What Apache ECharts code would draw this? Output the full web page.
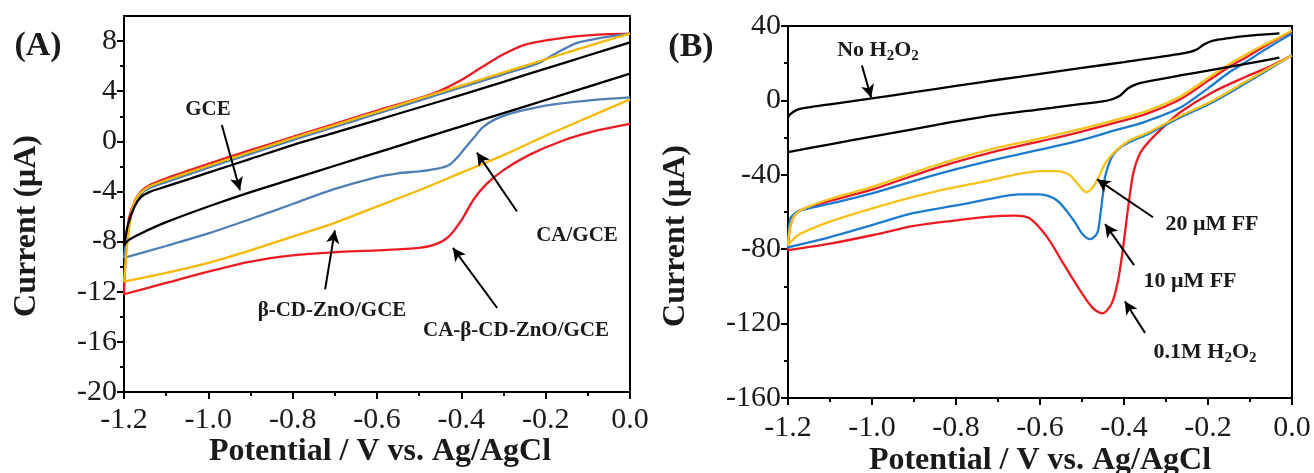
<!DOCTYPE html>
<html><head><meta charset="utf-8">
<script src="https://cdn.jsdelivr.net/npm/echarts@6/dist/echarts.min.js"></script>
<style>html,body{margin:0;padding:0;background:#fff}#c{width:1314px;height:473px}</style>
</head><body><div id="c"></div>
<script>
// ---------- Panel A data: [potential (V), current (uA)] ----------
const A_GCE_lower = [[-1.2,-8.3],[-1.19,-7.9],[-1.16,-7.35],[-1.1,-6.45],[-1.0,-5.2],[-0.9,-4.05],[-0.8,-3.0],[-0.7,-1.95],[-0.6,-0.9],[-0.5,0.15],[-0.4,1.2],[-0.3,2.25],[-0.2,3.3],[-0.1,4.35],[0,5.4]];
const A_GCE_upper = [[0,7.9],[-0.1,6.85],[-0.2,5.8],[-0.3,4.75],[-0.4,3.7],[-0.5,2.7],[-0.6,1.7],[-0.7,0.7],[-0.8,-0.3],[-0.9,-1.4],[-1.0,-2.5],[-1.1,-3.6],[-1.14,-4.05],[-1.16,-4.45],[-1.175,-5.2],[-1.19,-6.6],[-1.2,-8.3]];
const A_CA_lower = [[-1.2,-9.3],[-1.1,-8.35],[-1.0,-7.35],[-0.9,-6.2],[-0.8,-5.0],[-0.7,-3.8],[-0.6,-2.85],[-0.55,-2.55],[-0.5,-2.4],[-0.46,-2.2],[-0.43,-1.9],[-0.41,-1.3],[-0.39,-0.5],[-0.37,0.3],[-0.35,1.1],[-0.32,1.75],[-0.28,2.25],[-0.2,2.85],[-0.1,3.25],[0,3.5]];
const A_CA_upper = [[0,8.6],[-0.05,8.35],[-0.1,8.05],[-0.13,7.8],[-0.16,7.3],[-0.19,6.75],[-0.22,6.2],[-0.3,5.35],[-0.4,4.3],[-0.5,3.25],[-0.6,2.2],[-0.7,1.15],[-0.8,0.1],[-0.9,-1.0],[-1.0,-2.1],[-1.1,-3.25],[-1.14,-3.75],[-1.16,-4.2],[-1.175,-5.0],[-1.19,-7.0],[-1.2,-9.3]];
const A_CDZ_lower = [[-1.2,-11.2],[-1.1,-10.5],[-1.0,-9.7],[-0.9,-8.7],[-0.8,-7.6],[-0.7,-6.5],[-0.6,-5.2],[-0.5,-3.9],[-0.4,-2.5],[-0.3,-1.1],[-0.2,0.45],[-0.1,1.9],[0,3.35]];
const A_CDZ_upper = [[0,8.6],[-0.1,7.6],[-0.2,6.55],[-0.3,5.5],[-0.4,4.45],[-0.5,3.4],[-0.6,2.35],[-0.7,1.3],[-0.8,0.25],[-0.9,-0.85],[-1.0,-1.95],[-1.1,-3.1],[-1.14,-3.6],[-1.16,-4.1],[-1.17,-4.5],[-1.18,-5.3],[-1.19,-7.5],[-1.2,-11.2]];
const A_CACDZ_lower = [[-1.2,-12.2],[-1.1,-11.3],[-1.0,-10.4],[-0.9,-9.6],[-0.8,-9.1],[-0.7,-8.85],[-0.6,-8.7],[-0.5,-8.5],[-0.46,-8.2],[-0.43,-7.6],[-0.4,-6.3],[-0.37,-4.6],[-0.34,-3.4],[-0.3,-2.3],[-0.24,-1.1],[-0.16,0.05],[-0.08,0.85],[0,1.4]];
const A_CACDZ_upper = [[0,8.6],[-0.05,8.55],[-0.1,8.45],[-0.15,8.3],[-0.2,8.05],[-0.25,7.7],[-0.3,6.95],[-0.35,5.95],[-0.4,4.9],[-0.45,4.05],[-0.5,3.45],[-0.6,2.45],[-0.7,1.4],[-0.8,0.35],[-0.9,-0.7],[-1.0,-1.8],[-1.1,-2.95],[-1.14,-3.5],[-1.16,-4.0],[-1.175,-4.8],[-1.19,-6.5],[-1.2,-12.2]];

// ---------- Panel B data ----------
const B_NoH2O2_lower = [[-1.2,-27.8],[-1.1,-23.6],[-1.0,-19.5],[-0.9,-15.4],[-0.8,-11.3],[-0.7,-7.7],[-0.6,-4.8],[-0.5,-1.9],[-0.45,-0.5],[-0.43,0.5],[-0.41,2.5],[-0.39,6.5],[-0.37,8.8],[-0.33,10.8],[-0.267,13.4],[-0.2,16],[-0.1,20],[-0.03,23]];
const B_NoH2O2_upper = [[-0.03,36],[-0.1,34.8],[-0.15,33.5],[-0.19,32],[-0.21,30],[-0.23,27],[-0.26,25.3],[-0.4,20.6],[-0.5,17.5],[-0.6,14.3],[-0.7,11.1],[-0.8,7.8],[-0.9,4.4],[-1.0,1.1],[-1.1,-2.1],[-1.15,-3.7],[-1.18,-5.2],[-1.195,-7.5],[-1.2,-9.1]];
const B_H2O2_lower = [[-1.2,-80.5],[-1.1,-77],[-1.0,-72.5],[-0.9,-67.5],[-0.8,-64.5],[-0.72,-62.5],[-0.66,-62],[-0.624,-63.5],[-0.583,-73.5],[-0.545,-87.5],[-0.505,-102],[-0.474,-111.7],[-0.452,-114.5],[-0.429,-109],[-0.414,-96.6],[-0.402,-78.9],[-0.39,-57.4],[-0.378,-39.3],[-0.362,-28.5],[-0.338,-21.5],[-0.3,-13],[-0.267,-6.5],[-0.188,4.5],[-0.107,13],[-0.05,18.5],[0,24.2]];
const B_H2O2_upper = [[0,37],[-0.03,33.5],[-0.07,28.5],[-0.107,23.5],[-0.15,18],[-0.2,10.5],[-0.267,0.5],[-0.35,-7.5],[-0.42,-12],[-0.505,-17],[-0.6,-22],[-0.72,-28.2],[-0.85,-36.5],[-1.0,-48],[-1.1,-54],[-1.15,-57.5],[-1.17,-59],[-1.185,-62],[-1.195,-68],[-1.2,-80.5]];
const B_FF10_lower = [[-1.2,-79],[-1.1,-73.5],[-1.0,-67],[-0.9,-60.5],[-0.8,-56.5],[-0.72,-53],[-0.65,-50.5],[-0.6,-50.5],[-0.56,-53.7],[-0.52,-64.4],[-0.5,-71.5],[-0.481,-74.6],[-0.464,-71.4],[-0.457,-62.7],[-0.45,-50],[-0.445,-41],[-0.429,-30.4],[-0.41,-25.5],[-0.39,-22.8],[-0.345,-18.3],[-0.267,-9.3],[-0.188,-0.8],[-0.107,9.7],[-0.05,17.4],[0,24.2]];
const B_FF10_upper = [[0,36],[-0.03,32],[-0.07,26.5],[-0.107,21],[-0.15,15],[-0.2,6.5],[-0.267,-4],[-0.35,-11.5],[-0.42,-16],[-0.505,-21.5],[-0.6,-26.5],[-0.72,-32.5],[-0.85,-40],[-1.0,-50],[-1.1,-55.5],[-1.15,-58],[-1.17,-59],[-1.185,-61],[-1.195,-64],[-1.2,-79]];
const B_FF20_lower = [[-1.2,-78],[-1.185,-74],[-1.17,-71.6],[-1.09,-64.4],[-0.95,-54.8],[-0.85,-49],[-0.72,-43],[-0.65,-39.5],[-0.6,-38],[-0.56,-38],[-0.53,-40],[-0.51,-45],[-0.49,-49.3],[-0.475,-47],[-0.46,-41],[-0.445,-34],[-0.426,-28.5],[-0.39,-22],[-0.345,-17.5],[-0.267,-8.5],[-0.188,0],[-0.107,10.5],[-0.05,18],[0,24.2]];
const B_FF20_upper = [[0,37.6],[-0.03,34],[-0.07,29.5],[-0.107,25],[-0.15,19.5],[-0.2,12],[-0.267,2],[-0.35,-6],[-0.42,-10.5],[-0.505,-15.5],[-0.6,-20.5],[-0.72,-26.5],[-0.85,-35],[-1.0,-46.5],[-1.1,-53],[-1.15,-57],[-1.17,-59],[-1.185,-62],[-1.195,-68],[-1.2,-78]];

// ---------- tick values ----------
const A_X_TICKS = [-1.2,-1.0,-0.8,-0.6,-0.4,-0.2,0.0];
const A_X_MINOR = [-1.1,-0.9,-0.7,-0.5,-0.3,-0.1];
const A_Y_TICKS = [-20,-16,-12,-8,-4,0,4,8];
const A_Y_MINOR = [-18,-14,-10,-6,-2,2,6];
const B_X_TICKS = [-1.2,-1.0,-0.8,-0.6,-0.4,-0.2,0.0];
const B_X_MINOR = [-1.1,-0.9,-0.7,-0.5,-0.3,-0.1];
const B_Y_TICKS = [-160,-120,-80,-40,0,40];
const B_Y_MINOR = [-140,-100,-60,-20,20];

const SERIF = "'Liberation Serif','Times New Roman',serif";
const C = {
  black:'#000000', aBlue:'#4f7fb3', aYellow:'#f6b800', aRed:'#ec1b23',
  bBlue:'#1c7bd0', bYellow:'#f7c21a', bRed:'#ec1b23'
};

const chart = echarts.init(document.getElementById('c'), null, {renderer:'canvas'});

function mainX(grid, ticks, min, max, margin){
  return {gridIndex:grid, type:'value', min:min, max:max,
    axisLine:{show:true, onZero:false, lineStyle:{color:'#000', width:2}},
    axisTick:{show:true, inside:false, length:7, lineStyle:{color:'#000', width:2}, customValues:ticks},
    axisLabel:{show:true, customValues:ticks, formatter:v=>Number(v).toFixed(1), fontFamily:SERIF, fontSize:30, color:'#1a1a1a', margin:margin},
    splitLine:{show:false}};
}
function minorX(grid, ticks, min, max){
  return {gridIndex:grid, type:'value', min:min, max:max, position:'bottom',
    axisLine:{show:false, onZero:false},
    axisTick:{show:true, inside:false, length:4, lineStyle:{color:'#000', width:2}, customValues:ticks},
    axisLabel:{show:false}, splitLine:{show:false}};
}
function mainY(grid, ticks, min, max){
  return {gridIndex:grid, type:'value', min:min, max:max,
    axisLine:{show:true, onZero:false, lineStyle:{color:'#000', width:2}},
    axisTick:{show:true, inside:false, length:7, lineStyle:{color:'#000', width:2}, customValues:ticks},
    axisLabel:{show:true, customValues:ticks, formatter:v=>String(Math.round(v)), fontFamily:SERIF, fontSize:30, color:'#1a1a1a', margin:7},
    splitLine:{show:false}};
}
function minorY(grid, ticks, min, max){
  return {gridIndex:grid, type:'value', min:min, max:max, position:'left',
    axisLine:{show:false, onZero:false},
    axisTick:{show:true, inside:false, length:4, lineStyle:{color:'#000', width:2}, customValues:ticks},
    axisLabel:{show:false}, splitLine:{show:false}};
}

function line(name, data, color, xi, yi, z){
  return {name:name, type:'line', xAxisIndex:xi, yAxisIndex:yi, data:data, showSymbol:false, symbol:'none',
    smooth:0.3, lineStyle:{color:color, width:2.3}, z:z||2, animation:false, silent:true};
}
// cyclic voltammogram: upper branch (0 -> -1.2) followed by lower branch (-1.2 -> 0)
function loop(lower, upper){ return upper.concat(lower.slice(1)); }

function arrows(list){
  return {silent:true, animation:false, symbol:['none','arrow'], symbolSize:[10,13],
    lineStyle:{color:'#000', width:2, type:'solid'}, label:{show:false},
    data:list.map(a=>[{coord:a[0]},{coord:a[1]}])};
}

const A_ARROWS = [
  [[-0.968,1.3],[-0.925,-3.9]],
  [[-0.268,-5.6],[-0.363,-0.9]],
  [[-0.723,-11.8],[-0.700,-7.1]],
  [[-0.315,-13.3],[-0.420,-8.5]]
];
const B_ARROWS = [
  [[-1.024,18.8],[-1.002,1.5]],
  [[-0.331,-62.8],[-0.464,-42.5]],
  [[-0.376,-88.6],[-0.445,-66.5]],
  [[-0.350,-125],[-0.398,-108]]
];

const sA = line('GCE', loop(A_GCE_lower, A_GCE_upper), C.black, 0, 0, 3);
sA.markLine = arrows(A_ARROWS);
const sB = line('No H2O2 lower', B_NoH2O2_lower, C.black, 2, 2, 3);
sB.markLine = arrows(B_ARROWS);

const labelStyle = (size)=>({fontFamily:SERIF, fontWeight:'bold', fontSize:size, fill:'#1a1a1a', align:'center', verticalAlign:'middle'});
function txt(x, y, text, size, rot){
  return {type:'text', x:x, y:y, rotation:rot||0, z:100, silent:true,
    style:Object.assign({text:text}, labelStyle(size))};
}
function subTxt(x, y, text, size){
  return {type:'text', x:x, y:y, z:100, silent:true,
    style:{text:text, align:'center', verticalAlign:'middle', fill:'#1a1a1a',
      rich:{a:{fontFamily:SERIF, fontWeight:'bold', fontSize:size, lineHeight:size+5, fill:'#1a1a1a'},
            s:{fontFamily:SERIF, fontWeight:'bold', fontSize:Math.round(size*0.66), lineHeight:Math.round(size*0.66), verticalAlign:'bottom', fill:'#1a1a1a'}}}};
}

chart.setOption({
  animation:false,
  backgroundColor:'#ffffff',
  grid:[
    {left:124, top:16, width:506, height:376, show:true, borderColor:'#000', borderWidth:2, backgroundColor:'transparent'},
    {left:788, top:26, width:504, height:372, show:true, borderColor:'#000', borderWidth:2, backgroundColor:'transparent'}
  ],
  xAxis:[
    mainX(0, A_X_TICKS, -1.2, 0, 13), minorX(0, A_X_MINOR, -1.2, 0),
    mainX(1, B_X_TICKS, -1.2, 0, 15), minorX(1, B_X_MINOR, -1.2, 0)
  ],
  yAxis:[
    mainY(0, A_Y_TICKS, -20, 10), minorY(0, A_Y_MINOR, -20, 10),
    mainY(1, B_Y_TICKS, -160, 40), minorY(1, B_Y_MINOR, -160, 40)
  ],
  series:[
    line('CA-β-CD-ZnO/GCE', loop(A_CACDZ_lower, A_CACDZ_upper), C.aRed, 0, 0, 2),
    line('CA/GCE', loop(A_CA_lower, A_CA_upper), C.aBlue, 0, 0, 2),
    line('β-CD-ZnO/GCE', loop(A_CDZ_lower, A_CDZ_upper), C.aYellow, 0, 0, 2),
    sA,
    sB,
    line('No H2O2 upper', B_NoH2O2_upper, C.black, 2, 2, 3),
    line('0.1M H2O2', loop(B_H2O2_lower, B_H2O2_upper), C.bRed, 2, 2, 2),
    line('10 uM FF', loop(B_FF10_lower, B_FF10_upper), C.bBlue, 2, 2, 2),
    line('20 uM FF', loop(B_FF20_lower, B_FF20_upper), C.bYellow, 2, 2, 2)
  ],
  graphic:[
    txt(38, 46, '(A)', 34),
    txt(691, 47, '(B)', 34),
    txt(27, 226, 'Current (μA)', 32, Math.PI/2),
    txt(676, 236, 'Current (μA)', 32, Math.PI/2),
    txt(380, 452, 'Potential / V vs. Ag/AgCl', 32),
    txt(1040, 461, 'Potential / V vs. Ag/AgCl', 32),
    txt(208, 110, 'GCE', 21),
    txt(577, 236, 'CA/GCE', 21),
    txt(332, 311, 'β-CD-ZnO/GCE', 21),
    txt(516, 331, 'CA-β-CD-ZnO/GCE', 21),
    subTxt(878, 50, '{a|No H}{s|2}{a|O}{s|2}', 22),
    txt(1212, 224, '20 μM FF', 22),
    txt(1190, 281, '10 μM FF', 22),
    subTxt(1205, 352, '{a|0.1M H}{s|2}{a|O}{s|2}', 22)
  ]
});
</script></body></html>
